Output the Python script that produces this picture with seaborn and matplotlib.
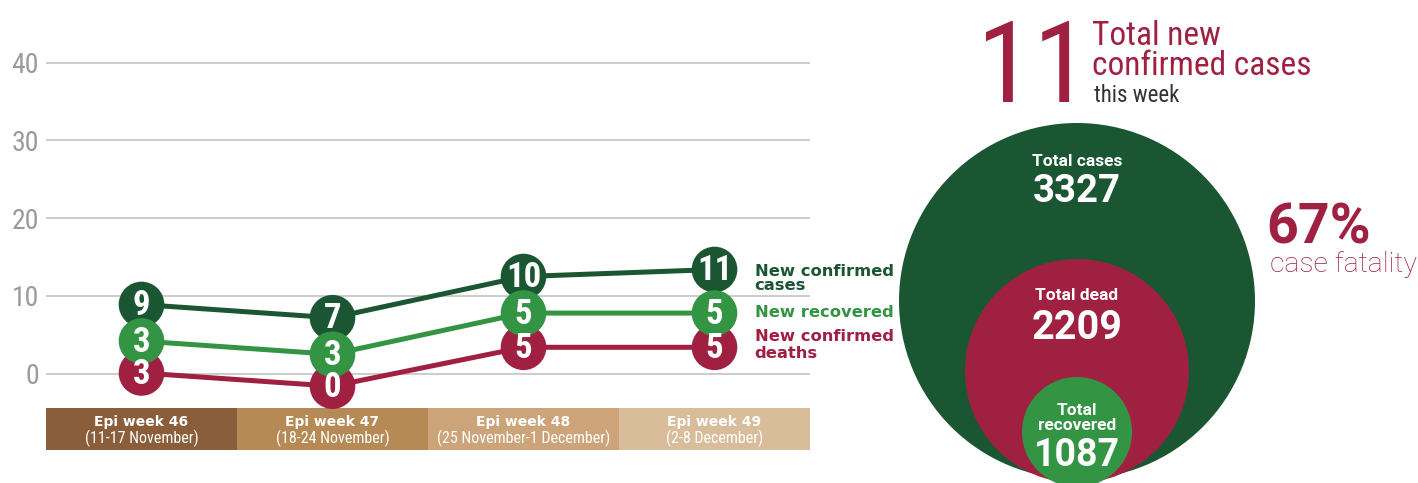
import matplotlib
matplotlib.use('Agg')
import matplotlib.pyplot as plt
import matplotlib.font_manager as fm
from matplotlib.patches import Circle
import pandas as pd
import seaborn as sns

# weekly numbers
weeks = ['Epi week 46', 'Epi week 47', 'Epi week 48', 'Epi week 49']
week_dates = ['(11-17 November)', '(18-24 November)', '(25 November-1 December)', '(2-8 December)']
series_names = ['New confirmed\ncases', 'New recovered', 'New confirmed\ndeaths']
cases = [9, 7, 10, 11]
recovered = [3, 3, 5, 5]
deaths = [3, 0, 5, 5]
# the bubbles are not placed at their own count on the grid,
# these are the heights they sit at in the original
cases_pos = [8.9, 7.2, 12.5, 13.4]
recovered_pos = [4.2, 2.5, 7.8, 7.8]
deaths_pos = [0.1, -1.6, 3.4, 3.4]
yticks = [0, 10, 20, 30, 40]

# running totals
totals_labels = ['Total cases', 'Total dead', 'Total\nrecovered']
totals = [3327, 2209, 1087]
new_this_week = 11
fatality = 67

dark_green = '#1B5632'
green = '#339444'
crimson = '#A02042'
grey = '#9A9A9A'
band_colours = ['#8B5E3B', '#B58A55', '#CDA47A', '#D9BD9A']

installed = {f.name for f in fm.fontManager.ttflist}


def pick(*names):
	for n in names:
		if n in installed:
			return n
	return 'DejaVu Sans'


narrow = pick('Roboto Condensed', 'Liberation Sans Narrow', 'Roboto')
sans = pick('Roboto', 'Liberation Sans')
wide = 'DejaVu Sans'

sns.set_theme(style='white')
plt.rcParams['font.family'] = [sans, 'DejaVu Sans']

fig = plt.figure(figsize=(14.18, 4.83), dpi=100)

# ---- left: weekly line chart ----
ax = fig.add_axes([46 / 1418, 33 / 483, 764 / 1418, 410 / 483])
y_bottom, y_top = -9.81, 42.92
band_top = -4.41

df = pd.DataFrame({
	'week': list(range(len(weeks))) * 3,
	'pos': cases_pos + recovered_pos + deaths_pos,
	'count': cases + recovered + deaths,
	'series': [s for s in series_names for _ in weeks],
})
palette = dict(zip(series_names, [dark_green, green, crimson]))
# recovered bubbles sit on top of the others
bubbles = pd.concat([df[df['series'] == n] for n in [series_names[0], series_names[2], series_names[1]]])

ax.bar(range(len(weeks)), band_top - y_bottom, bottom=y_bottom, width=1.0,
	color=band_colours, linewidth=0, zorder=1)
sns.lineplot(data=df, x='week', y='pos', hue='series', palette=palette,
	linewidth=3.6, legend=False, ax=ax, zorder=2)
sns.scatterplot(data=bubbles, x='week', y='pos', hue='series', palette=palette,
	s=1080, linewidth=0, legend=False, ax=ax, zorder=3)
for _, r in df.iterrows():
	ax.text(r['week'], r['pos'] - 0.15, str(r['count']), ha='center', va='center',
		color='white', fontsize=25, fontweight='bold', family=narrow, zorder=4)

for i, (w, d) in enumerate(zip(weeks, week_dates)):
	ax.text(i, -6.69, w, ha='center', va='baseline', color='white', fontsize=10,
		fontweight='bold', family=wide, zorder=4)
	ax.text(i, -8.95, d, ha='center', va='baseline', color='white', fontsize=11.5,
		family=narrow, zorder=4)

# series names next to the last week, one baseline per line
label_baselines = [[12.60, 10.77], [7.33], [4.21, 2.06]]
for name, bases in zip(series_names, label_baselines):
	for line, yy in zip(name.split('\n'), bases):
		ax.text(3.21, yy, line, ha='left', va='baseline', color=palette[name], fontsize=11.8,
			fontweight='bold', family=wide, clip_on=False)

ax.set_xlim(-0.5, len(weeks) - 0.5)
ax.set_ylim(y_bottom, y_top)
ax.set_xticks([])
ax.set_yticks(yticks)
ax.set_yticklabels([str(t) for t in yticks])
ax.set_axisbelow(True)
ax.yaxis.grid(True, color='#C8C8C8', linewidth=1.3)
ax.xaxis.grid(False)
ax.set_xlabel('')
ax.set_ylabel('')
ax.tick_params(axis='y', length=0, pad=5, labelsize=20, labelcolor=grey)
for lbl in ax.get_yticklabels():
	lbl.set_family(narrow)
sns.despine(ax=ax, left=True, bottom=True)

# ---- right: totals bubbles, axis in pixel units ----
ax2 = fig.add_axes([880 / 1418, 0, 538 / 1418, 1])
ax2.set_xlim(880, 1418)
ax2.set_ylim(483, 0)
ax2.axis('off')

bubble_x = 1077
bubble_y = [301, 371, 432]
bubble_r = [178, 112, 55]
bubble_colours = [dark_green, crimson, green]
for yy, rr, c in zip(bubble_y, bubble_r, bubble_colours):
	ax2.add_patch(Circle((bubble_x, yy), rr, color=c, linewidth=0))

ax2.text(bubble_x, 166, totals_labels[0], ha='center', va='baseline', color='white',
	fontsize=12.5, fontweight='bold')
ax2.text(bubble_x, 202, str(totals[0]), ha='center', va='baseline', color='white',
	fontsize=27.5, fontweight='bold')
ax2.text(bubble_x, 300, totals_labels[1], ha='center', va='baseline', color='white',
	fontsize=12.5, fontweight='bold')
ax2.text(bubble_x, 339, str(totals[1]), ha='center', va='baseline', color='white',
	fontsize=28.5, fontweight='bold')
ax2.text(bubble_x, 430, totals_labels[2], ha='center', va='baseline', color='white',
	fontsize=12.5, fontweight='bold', linespacing=1.0)
ax2.text(bubble_x, 466, str(totals[2]), ha='center', va='baseline', color='white',
	fontsize=27, fontweight='bold')

# headline
ax2.text(1089, 102, str(new_this_week), ha='right', va='baseline', color=crimson,
	fontsize=82, family=narrow)
ax2.text(1092, 45, 'Total new', ha='left', va='baseline', color=crimson,
	fontsize=24, family=narrow)
ax2.text(1092, 75, 'confirmed cases', ha='left', va='baseline', color=crimson,
	fontsize=24, family=narrow)
ax2.text(1094, 102, 'this week', ha='left', va='baseline', color='#333333',
	fontsize=16.5, family=narrow)

ax2.text(1266, 243, '{}%'.format(fatality), ha='left', va='baseline', color=crimson,
	fontsize=40, fontweight='bold')
ax2.text(1270, 272, 'case fatality', ha='left', va='baseline', color=crimson,
	fontsize=20.5, fontweight='light')

fig.savefig('out.png', dpi=100)
